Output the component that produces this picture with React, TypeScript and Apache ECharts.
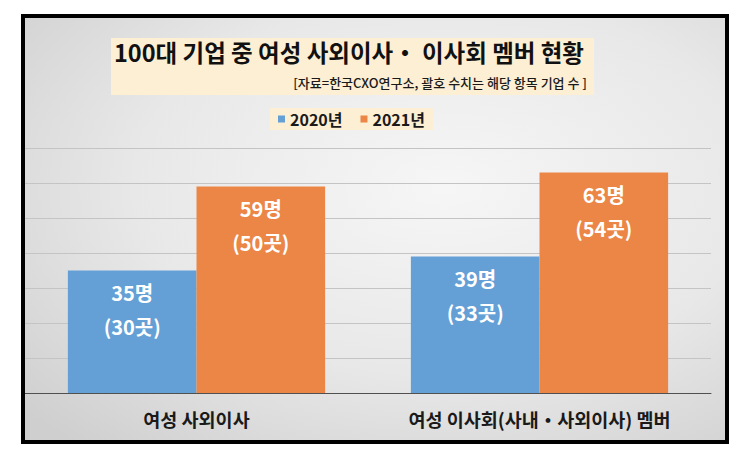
import React, { useEffect, useRef } from "react";
import * as echarts from "echarts";

const categories = ["여성 사외이사", "여성 이사회(사내・사외이사) 멤버"];
const seriesNames = ["2020년", "2021년"];
const people2020 = [35, 39];
const companies2020 = [30, 33];
const people2021 = [59, 63];
const companies2021 = [50, 54];
const yTicks = [0, 10, 20, 30, 40, 50, 60, 70];

const FONT = "'Noto Sans CJK KR', 'Noto Sans', sans-serif";

export default function App() {
  const ref = useRef<HTMLDivElement>(null);
  useEffect(() => {
    if (!ref.current) return;
    const chart = echarts.init(ref.current, undefined, { renderer: "svg" });
    const labelFor = (companies: number[]) => ({
      show: true,
      position: "insideTop",
      distance: 5,
      color: "#ffffff",
      fontFamily: FONT,
      fontWeight: "bold",
      fontSize: 20,
      lineHeight: 34,
      formatter: (p: any) => `${p.value}명\n(${companies[p.dataIndex]}곳)`,
    });
    chart.setOption({
      animation: false,
      backgroundColor: "#ffffff",
      textStyle: { fontFamily: FONT },
      graphic: [
        {
          type: "rect",
          z: -10,
          shape: { x: 23, y: 16, width: 704, height: 426 },
          style: {
            fill: new echarts.graphic.RadialGradient(0.6, 0.4, 0.8, [
              { offset: 0, color: "#f6f6f6" },
              { offset: 0.55, color: "#e8e8e8" },
              { offset: 1, color: "#cfcfcf" },
            ]),
          },
        },
        {
          type: "rect",
          z: -5,
          shape: { x: 111, y: 38, width: 483, height: 57 },
          style: { fill: "#fcefd4" },
        },
        {
          type: "rect",
          z: 100,
          shape: { x: 23, y: 16, width: 704, height: 426 },
          style: { fill: "none", stroke: "#000000", lineWidth: 4 },
        },
      ],
      title: [
        {
          text: "100대 기업 중 여성 사외이사・ 이사회 멤버 현황",
          left: 114,
          top: 40,
          padding: 0,
          textStyle: {
            fontFamily: FONT,
            fontSize: 23.5,
            fontWeight: "bold",
            color: "#111111",
          },
        },
        {
          text: "[자료=한국CXO연구소, 괄호 수치는 해당 항목 기업 수 ]",
          right: 163,
          top: 76,
          padding: 0,
          textStyle: {
            fontFamily: FONT,
            fontSize: 13,
            fontWeight: 500,
            color: "#1a1a1a",
          },
        },
      ],
      legend: {
        data: seriesNames,
        left: 270,
        top: 108,
        padding: [3, 8],
        backgroundColor: "#fcefd4",
        icon: "rect",
        itemWidth: 7,
        itemHeight: 7,
        itemGap: 18,
        textStyle: {
          fontFamily: FONT,
          fontSize: 16,
          fontWeight: "bold",
          color: "#1a1a1a",
        },
      },
      grid: { left: 25, right: 39, top: 148, bottom: 62 },
      xAxis: {
        type: "category",
        data: categories,
        axisLine: { lineStyle: { color: "#505050", width: 1 } },
        axisTick: { show: false },
        axisLabel: {
          interval: 0,
          hideOverlap: false,
          margin: 17,
          fontFamily: FONT,
          fontSize: 18.5,
          fontWeight: "bold",
          color: "#1a1a1a",
        },
      },
      yAxis: {
        type: "value",
        min: yTicks[0],
        max: yTicks[yTicks.length - 1],
        interval: 10,
        axisLabel: { show: false },
        axisLine: { show: false },
        axisTick: { show: false },
        splitLine: { lineStyle: { color: "#c4c4c4", width: 1 } },
      },
      series: [
        {
          name: seriesNames[0],
          type: "bar",
          data: people2020,
          barGap: "0%",
          barCategoryGap: "25%",
          itemStyle: { color: "#64a0d6" },
          label: labelFor(companies2020),
        },
        {
          name: seriesNames[1],
          type: "bar",
          data: people2021,
          barGap: "0%",
          barCategoryGap: "25%",
          itemStyle: { color: "#eb8646" },
          label: labelFor(companies2021),
        },
      ],
    });
    return () => chart.dispose();
  }, []);
  return (
    <div
      ref={ref}
      style={{ position: "fixed", left: 0, top: 0, width: 750, height: 455 }}
    />
  );
}
